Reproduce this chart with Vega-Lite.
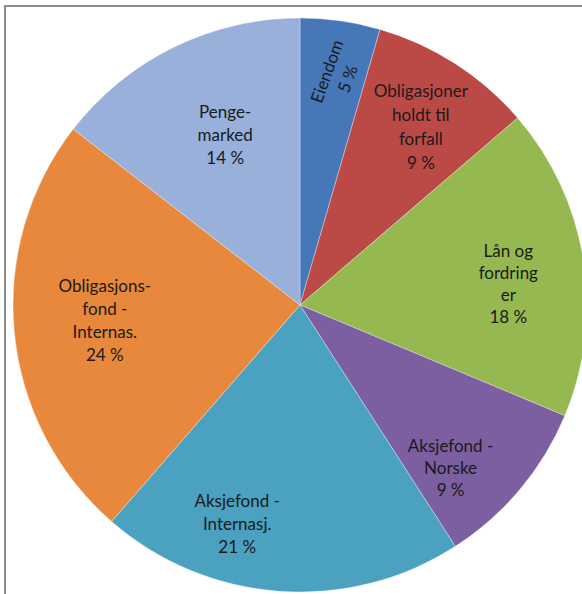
{
  "$schema": "https://vega.github.io/schema/vega-lite/v6.json",
  "width": 590,
  "height": 598,
  "autosize": {"type": "none"},
  "padding": {"left": 5, "top": 6, "right": 0, "bottom": 0},
  "background": "#ffffff",
  "view": {"stroke": "#8c8c8c", "strokeWidth": 2, "fill": "#ffffff"},
  "data": {
    "values": [
      {"category": "Eiendom", "value": 4.5, "label": "Eiendom\n5 %", "order": 1},
      {"category": "Obligasjoner holdt til forfall", "value": 9.2, "label": "Obligasjoner\nholdt til\nforfall\n9 %", "order": 2},
      {"category": "Lån og fordringer", "value": 17.6, "label": "Lån og\nfordring\ner\n18 %", "order": 3},
      {"category": "Aksjefond - Norske", "value": 9.6, "label": "Aksjefond -\nNorske\n9 %", "order": 4},
      {"category": "Aksjefond - Internasj.", "value": 20.5, "label": "Aksjefond -\nInternasj.\n21 %", "order": 5},
      {"category": "Obligasjonsfond - Internas.", "value": 24.1, "label": "Obligasjons-\nfond -\nInternas.\n24 %", "order": 6},
      {"category": "Pengemarked", "value": 14.5, "label": "Penge-\nmarked\n14 %", "order": 7}
    ]
  },
  "encoding": {
    "theta": {"field": "value", "type": "quantitative", "stack": true},
    "order": {"field": "order", "type": "quantitative"}
  },
  "layer": [
    {
      "mark": {"type": "arc", "outerRadius": 287, "stroke": "#ffffff", "strokeWidth": 0.8, "strokeOpacity": 0.4},
      "encoding": {
        "color": {
          "field": "category",
          "type": "nominal",
          "legend": null,
          "scale": {
            "domain": ["Eiendom", "Obligasjoner holdt til forfall", "Lån og fordringer", "Aksjefond - Norske", "Aksjefond - Internasj.", "Obligasjonsfond - Internas.", "Pengemarked"],
            "range": ["#4677b8", "#bb4a47", "#95b851", "#7b5fa0", "#4aa2c0", "#e8883c", "#98b0da"]
          }
        }
      }
    },
    {
      "mark": {"type": "text", "radius": 235, "thetaOffset": -0.022, "angle": -70, "font": "Lato", "fontSize": 17, "lineBreak": "\n", "lineHeight": 22, "color": "#1a1a1a", "align": "center", "baseline": "middle"},
      "encoding": {"text": {"condition": {"test": "datum.category === 'Eiendom'", "field": "label"}, "value": ""}}
    },
    {
      "mark": {"type": "text", "radius": 245, "thetaOffset": -0.056, "font": "Lato", "fontSize": 17, "lineBreak": "\n", "lineHeight": 24, "color": "#1a1a1a", "align": "center", "baseline": "middle"},
      "encoding": {"text": {"condition": {"test": "datum.category === 'Obligasjoner holdt til forfall'", "field": "label"}, "value": ""}}
    },
    {
      "mark": {"type": "text", "radius": 215, "thetaOffset": -0.093, "font": "Lato", "fontSize": 17, "lineBreak": "\n", "lineHeight": 22, "color": "#1a1a1a", "align": "center", "baseline": "middle"},
      "encoding": {"text": {"condition": {"test": "datum.category === 'Lån og fordringer'", "field": "label"}, "value": ""}}
    },
    {
      "mark": {"type": "text", "radius": 207, "thetaOffset": 0.059, "font": "Lato", "fontSize": 17, "lineBreak": "\n", "lineHeight": 22, "color": "#1a1a1a", "align": "center", "baseline": "middle"},
      "encoding": {"text": {"condition": {"test": "datum.category === 'Aksjefond - Norske'", "field": "label"}, "value": ""}}
    },
    {
      "mark": {"type": "text", "radius": 207, "thetaOffset": 0.236, "font": "Lato", "fontSize": 17, "lineBreak": "\n", "lineHeight": 23, "color": "#1a1a1a", "align": "center", "baseline": "middle"},
      "encoding": {"text": {"condition": {"test": "datum.category === 'Aksjefond - Internasj.'", "field": "label"}, "value": ""}}
    },
    {
      "mark": {"type": "text", "radius": 196, "thetaOffset": 0.19, "font": "Lato", "fontSize": 17, "lineBreak": "\n", "lineHeight": 23, "color": "#1a1a1a", "align": "center", "baseline": "middle"},
      "encoding": {"text": {"condition": {"test": "datum.category === 'Obligasjonsfond - Internas.'", "field": "label"}, "value": ""}}
    },
    {
      "mark": {"type": "text", "radius": 206, "thetaOffset": 0.084, "font": "Lato", "fontSize": 17, "lineBreak": "\n", "lineHeight": 23, "color": "#1a1a1a", "align": "center", "baseline": "middle"},
      "encoding": {"text": {"condition": {"test": "datum.category === 'Pengemarked'", "field": "label"}, "value": ""}}
    }
  ]
}
